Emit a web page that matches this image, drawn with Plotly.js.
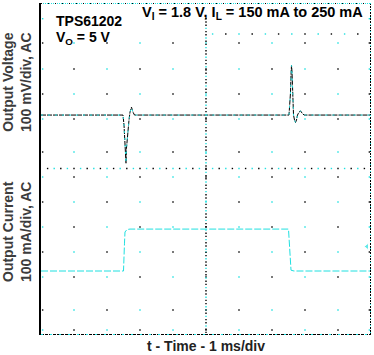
<!DOCTYPE html>
<html><head><meta charset="utf-8">
<script src="https://cdn.plot.ly/plotly-3.0.1.min.js"></script>
<style>html,body{margin:0;padding:0;background:#fff}#chart{width:374px;height:355px}</style>
</head><body><div id="chart"></div>
<script>
// Output voltage, AC coupled: deviation in mV vs time in ms
const vTime = [0, 2.485, 2.515, 2.545, 2.56, 2.576, 2.59, 2.606, 2.636, 2.667, 2.697, 2.742, 2.788, 2.833, 7.515, 7.545, 7.56, 7.576, 7.591, 7.606, 7.621, 7.636, 7.652, 7.682, 7.712, 7.742, 7.773, 7.818, 7.864, 7.909, 7.97, 10];
const vOut  = [0, 0, -24, -84, -113, -116, -80, -60, -36, -12, 7, 19, 7, 0, 0, 24, 53, 96, 120, 104, 48, 17, 0, -12, -18, -12, 0, 7, 10, 5, 0, 0];
// Output current in mA vs time in ms
const iTime = [0, 2.5, 2.53, 2.545, 2.606, 2.697, 7.5, 7.524, 7.56, 7.576, 7.667, 10];
const iOut  = [150, 150, 217, 244, 250, 251, 251, 227, 174, 152, 150, 150];

const CYAN = '#1fe0e0';
const FONT = 'Liberation Sans, Arial, sans-serif';

// graticule (decoration), pixel rows from top of plot frame
const gCols = [0.05, 1, 2, 3, 4, 5, 6, 7, 8, 9, 9.95];
const gRows = [43, 69, 94, 119, 152, 177, 202, 227, 252, 277, 310, 330];
const gx = [], gy = [], gc = [];
gRows.forEach((r, i) => gCols.forEach((c, j) => { gx.push(c); gy.push(r); gc.push((i + j) % 2 ? CYAN : '#000'); }));
[0.05, 5, 9.95].forEach((c, j) => { gx.push(c); gy.push(18.7); gc.push(j % 2 ? '#000' : CYAN); });
for (let k = 1; k < 50; k++) { gx.push(k * 0.2); gy.push(168.5); gc.push(k % 2 ? '#000' : CYAN); }
for (let k = 0; k < 12; k++) { gx.push(5.2 + k * 0.4); gy.push(34); gc.push(k % 2 ? '#000' : CYAN); }
for (let p = 22; p < 334; p += 3.2) { gx.push(5); gy.push(p); gc.push(Math.round(p / 3.2) % 3 ? '#000' : CYAN); }

const traces = [
  {x: gx, y: gy, yaxis: 'y3', mode: 'markers', type: 'scatter', hoverinfo: 'skip',
   marker: {symbol: 'square', size: 1.4, color: gc, line: {width: 0}}},
  {x: iTime, y: iOut, yaxis: 'y2', mode: 'lines', type: 'scatter',
   line: {color: CYAN, width: 1, dash: '7px,2px'}},
  {x: vTime, y: vOut, mode: 'lines', type: 'scatter', line: {color: '#000', width: 1, dash: '5px,1px'}},
  {x: vTime, y: vOut, mode: 'lines', type: 'scatter', line: {color: CYAN, width: 1, dash: '2px,5px'}},
  {x: [-0.06, -0.07, 9.88], y: [86, 294, 246.5], yaxis: 'y3', mode: 'markers', type: 'scatter', cliponaxis: false,
   marker: {symbol: ['triangle-right', 'triangle-right', 'triangle-left'], size: [7, 5, 6], color: ['#000', CYAN, CYAN]}}
];

const layout = {
  width: 374, height: 355, showlegend: false,
  margin: {l: 41, r: 3, t: 3, b: 20},
  paper_bgcolor: '#fff', plot_bgcolor: '#fff',
  xaxis: {range: [0, 10], showgrid: false, zeroline: false, showticklabels: false, ticks: '', showline: false},
  yaxis: {range: [-530, 270], showgrid: false, zeroline: false, showticklabels: false, ticks: '',
          showline: true, linecolor: '#000', linewidth: 2},
  yaxis2: {range: [-4.2, 795.8], overlaying: 'y', visible: false},
  yaxis3: {range: [335, 3], overlaying: 'y', visible: false},
  shapes: [
    {type: 'line', xref: 'x', yref: 'y3', x0: 0, x1: 10, y0: 3.5, y1: 3.5, line: {color: CYAN, width: 1, dash: '1px,1px'}},
    {type: 'line', xref: 'x', yref: 'y3', x0: 0, x1: 10, y0: 3.5, y1: 3.5, line: {color: '#000', width: 1, dash: '1px,6px'}},
    {type: 'line', xref: 'x', yref: 'y3', x0: 0, x1: 10, y0: 334.5, y1: 334.5, line: {color: '#000', width: 1, dash: '3px,1px'}},
    {type: 'line', xref: 'x', yref: 'y3', x0: 0, x1: 10, y0: 334.5, y1: 334.5, line: {color: CYAN, width: 1, dash: '2px,7px'}},
    {type: 'line', xref: 'x', yref: 'y3', x0: 9.985, x1: 9.985, y0: 3, y1: 335, line: {color: '#000', width: 1, dash: '2px,1px'}},
    {type: 'line', xref: 'x', yref: 'y3', x0: 9.985, x1: 9.985, y0: 3, y1: 335, line: {color: CYAN, width: 1, dash: '1px,6px'}}
  ],
  annotations: [
    {xref: 'paper', yref: 'y3', x: 0.1455, y: 20.5, xanchor: 'center', yanchor: 'middle', showarrow: false,
     text: '<b>TPS61202</b>', font: {family: FONT, size: 14, color: '#000'}},
    {xref: 'paper', yref: 'y3', x: 0.1285, y: 38, xanchor: 'center', yanchor: 'middle', showarrow: false,
     text: '<b>V<sub>O</sub> = 5 V</b>', font: {family: FONT, size: 14, color: '#000'}},
    {xref: 'paper', yref: 'y3', x: 0.642, y: 13, xanchor: 'center', yanchor: 'middle', showarrow: false,
     text: '<b>V<sub>I</sub> = 1.8 V, I<sub>L</sub> = 150 mA to 250 mA</b>', font: {family: FONT, size: 14.5, color: '#000'}},
    {xref: 'paper', yref: 'y3', x: -0.0727, y: 82, xanchor: 'center', yanchor: 'middle', showarrow: false, textangle: -90,
     text: '<b>Output Voltage<br>100 mV/div, AC</b>', font: {family: FONT, size: 14, color: '#3c3c3c'}},
    {xref: 'paper', yref: 'y3', x: -0.0727, y: 232, xanchor: 'center', yanchor: 'middle', showarrow: false, textangle: -90,
     text: '<b>Output Current<br>100 mA/div, AC</b>', font: {family: FONT, size: 14, color: '#3c3c3c'}},
    {xref: 'x', yref: 'paper', x: 5, y: -0.0346, xanchor: 'center', yanchor: 'middle', showarrow: false,
     text: '<b>t - Time - 1 ms/div</b>', font: {family: FONT, size: 14, color: '#222'}}
  ]
};

Plotly.newPlot('chart', traces, layout, {staticPlot: true, displayModeBar: false});
</script>
</body></html>
